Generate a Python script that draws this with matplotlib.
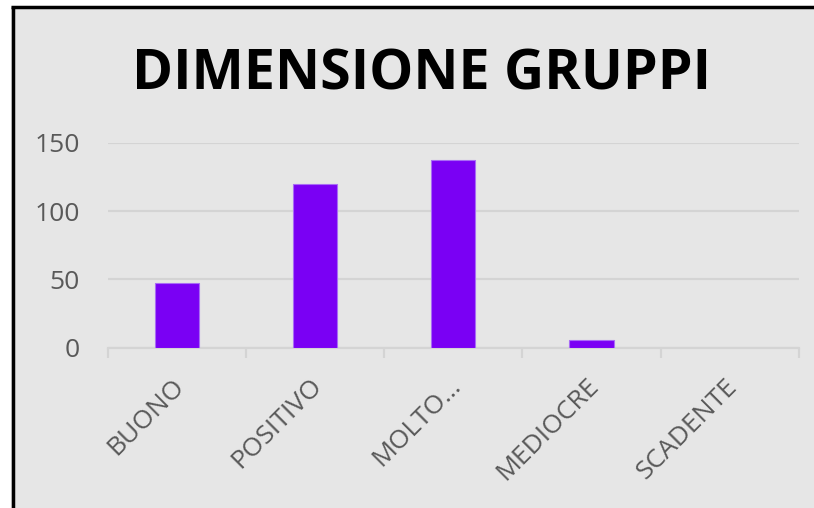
import matplotlib
matplotlib.use("Agg")
import matplotlib.pyplot as plt
from matplotlib.patches import Rectangle
from matplotlib.lines import Line2D

categories = ["BUONO", "POSITIVO", "MOLTO…", "MEDIOCRE", "SCADENTE"]
values = [47, 120, 137, 6, 0]
yticks = [0, 50, 100, 150]
title = "DIMENSIONE GRUPPI"

W, H = 814, 508
fig = plt.figure(figsize=(W / 100, H / 100), dpi=100)
fig.patch.set_facecolor("white")

bg = "#e6e6e6"
fig.patches.append(Rectangle((11 / W, 0), 1 - 11 / W, 1 - 6 / H, transform=fig.transFigure,
                             facecolor=bg, edgecolor="none", zorder=-5))
fig.lines.append(Line2D([12.5 / W, 12.5 / W], [0, 1 - 7 / H], transform=fig.transFigure,
                        color="black", linewidth=2.5, solid_capstyle="butt", zorder=-4))
fig.lines.append(Line2D([11 / W, 1], [1 - 7 / H, 1 - 7 / H], transform=fig.transFigure,
                        color="black", linewidth=2.5, solid_capstyle="butt", zorder=-4))

left, right = 107.7 / W, 799 / W
bottom, top = 1 - 347.7 / H, 1 - 142.7 / H
ax = fig.add_axes([left, bottom, right - left, top - bottom])
ax.set_facecolor("none")
ax.set_zorder(1)

x = list(range(len(categories)))
lws = [0.8 if v > 0 else 0 for v in values]
ax.bar(x, values, width=0.32, color="#7a00f4", edgecolor="#a96cf5", linewidth=lws, zorder=3)

ax.set_xlim(-0.5, len(categories) - 0.5)
ax.set_ylim(0, 150)
ax.set_yticks(yticks)
ax.set_yticklabels([str(v) for v in yticks])
ax.yaxis.grid(True, color="#d4d4d4", linewidth=1.6, zorder=0)
ax.set_axisbelow(True)

for s in ["top", "right", "left"]:
    ax.spines[s].set_visible(False)
ax.spines["bottom"].set_color("#d4d4d4")
ax.spines["bottom"].set_linewidth(1.6)

ax.tick_params(axis="y", length=0, pad=20, labelsize=19, labelcolor="#595959")
ax.set_xticks([i - 0.5 for i in range(len(categories) + 1)], minor=False)
ax.set_xticklabels([])
ax.tick_params(axis="x", which="major", direction="out", length=7.5, width=1.6, color="#d4d4d4")

for i, c in enumerate(categories):
    ax.annotate(c, xy=(i, 0), xycoords="data", xytext=(2.5, -25), textcoords="offset points",
                rotation=45, rotation_mode="anchor", ha="right", va="center",
                fontsize=19, color="#595959", family=["Open Sans", "DejaVu Sans"])

for lbl in ax.get_yticklabels():
    lbl.set_family(["Open Sans", "DejaVu Sans"])

fig.text(422 / W, 1 - 74.5 / H, title, ha="center", va="center", fontsize=40,
         fontweight="bold", color="black", family=["Open Sans", "DejaVu Sans"])

fig.savefig("out.png", dpi=100, facecolor="white")
